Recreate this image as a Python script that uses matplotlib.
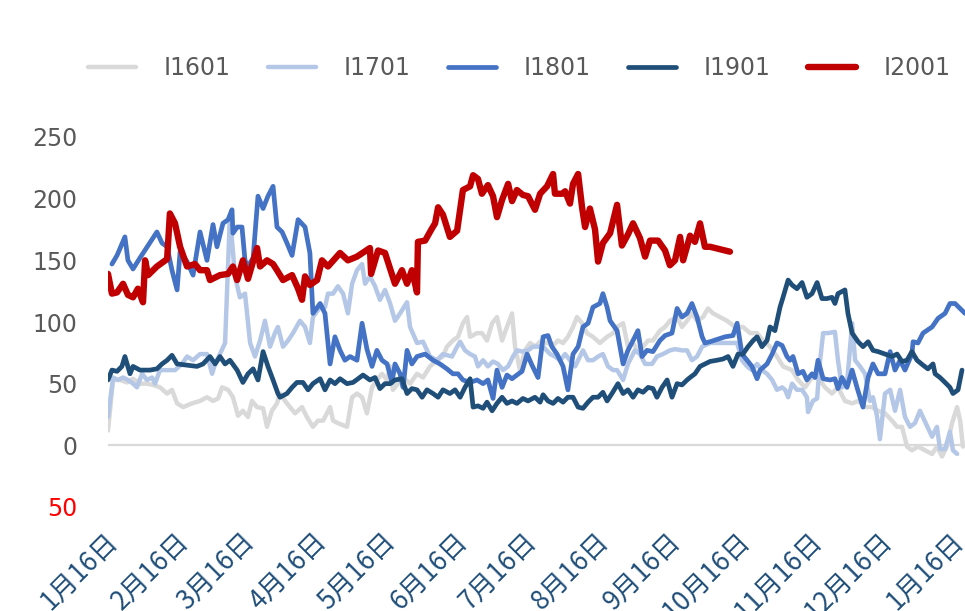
import datetime as dt

import matplotlib
matplotlib.use("Agg")
import matplotlib.dates as mdates
import matplotlib.pyplot as plt
import matplotlib.transforms as mtransforms
import numpy as np
from matplotlib.ticker import FuncFormatter


# Series settings
series_names = ["I1601", "I1701", "I1801", "I1901", "I2001"]
series_colors = ["#D9D9D9", "#B4C7E7", "#4472C4", "#1F4E79", "#C00000"]

# First date on the axis, every series is given as days after it
start_date = dt.date(2019, 1, 16)

i1601_days = [0, 2.2, 5.2, 8.2, 10.8, 13.8, 16.8, 19.4, 22.4, 25.5,
              27.6, 29.8, 32.4, 36.2, 39.7, 42.7, 45.3, 47.5, 49.2, 51.8,
              53.9, 56.1, 58.2, 60.4, 62.1, 64.3, 66.9, 68.6, 70.7, 72.9,
              74.2, 76.4, 78.5, 80.7, 83.7, 85.8, 88.4, 90.6, 92.8, 95.8,
              97.1, 99.2, 103.1, 105.3, 107.4, 109.6, 111.7, 113.9, 116.0, 118.2,
              120.4, 121.7, 122.9, 125.1, 127.3, 130.3, 133.3, 135.9, 138.9, 141.9,
              144.5, 146.2, 148.8, 151.0, 153.1, 154.9, 156.2, 159.2, 161.3, 163.5,
              165.7, 167.8, 170.0, 172.1, 174.3, 175.6, 177.7, 179.9, 182.1, 184.2,
              186.4, 189.4, 192.0, 194.1, 196.3, 198.4, 200.6, 202.3, 204.5, 206.6,
              209.2, 212.2, 215.3, 217.9, 219.6, 222.2, 224.3, 226.5, 228.6, 230.8,
              233.0, 235.1, 238.1, 240.3, 242.4, 245.5, 247.6, 249.8, 251.9, 254.1,
              256.7, 258.8, 261.0, 264.0, 267.0, 270.5, 273.9, 277.0, 280.0, 282.6,
              285.6, 288.6, 291.2, 295.1, 297.7, 300.7, 303.7, 306.3, 309.3, 312.3,
              314.9, 317.9, 321.0, 323.6, 326.6, 329.6, 332.2, 335.2, 338.2, 340.4,
              342.5, 344.7, 346.8, 349.4, 352.5, 355.5, 357.6, 359.8, 361.9, 364.1,
              366.3, 367.6, 368.8]
i1601_values = [12, 53, 53, 51, 54, 50, 50, 49, 47, 42,
                45, 34, 31, 34, 36, 39, 36, 38, 47, 45,
                39, 24, 28, 23, 36, 31, 30, 15, 28, 34,
                42, 36, 31, 26, 31, 23, 15, 20, 20, 31,
                20, 18, 15, 39, 42, 39, 26, 47, 53, 58,
                53, 64, 45, 50, 55, 50, 58, 55, 64, 69,
                72, 80, 85, 88, 99, 104, 88, 91, 91, 85,
                99, 104, 85, 96, 107, 80, 61, 77, 83, 80,
                84, 83, 81, 85, 83, 88, 96, 104, 99, 91,
                88, 83, 88, 91, 96, 99, 80, 83, 77, 80,
                85, 85, 93, 96, 101, 104, 96, 101, 107, 101,
                104, 111, 107, 104, 101, 96, 96, 91, 91, 85,
                80, 72, 64, 61, 53, 47, 55, 55, 47, 42,
                47, 36, 34, 36, 31, 31, 28, 26, 20, 15,
                15, -1, -4, -1, -4, -7, -1, -9, -1, 18,
                31, 20, -1]

i1701_days = [0, 2.2, 4.3, 6.5, 8.6, 10.8, 12.5, 14.7, 16.8, 19.0,
              20.3, 22.4, 25.5, 28.9, 31.9, 34.1, 36.7, 39.7, 42.7, 44.9,
              46.2, 48.3, 50.5, 52.6, 54.8, 56.9, 59.1, 61.3, 63.4, 65.6,
              67.7, 69.9, 72.0, 73.3, 75.5, 77.7, 79.8, 82.8, 85.0, 87.1,
              88.4, 91.5, 93.6, 94.9, 97.1, 99.2, 101.4, 103.5, 105.3, 107.4,
              109.6, 110.9, 113.0, 115.2, 117.3, 119.5, 121.7, 123.8, 126.0, 129.0,
              130.3, 133.3, 135.9, 138.9, 141.9, 144.5, 148.4, 150.6, 151.9, 154.0,
              156.2, 158.3, 159.6, 161.8, 163.9, 166.1, 168.2, 170.4, 172.6, 174.7,
              176.4, 179.0, 181.2, 183.3, 185.5, 187.7, 190.7, 192.8, 195.0, 197.2,
              199.3, 201.5, 203.6, 204.9, 207.1, 209.2, 211.4, 213.5, 215.7, 217.9,
              219.6, 222.2, 224.3, 227.3, 229.5, 231.7, 234.7, 236.8, 239.4, 242.4,
              244.6, 247.6, 249.8, 251.9, 254.1, 256.3, 259.7, 264.0, 268.3, 271.4,
              273.5, 275.7, 277.8, 280.0, 282.1, 284.3, 286.5, 288.6, 290.8, 292.1,
              293.4, 295.1, 297.2, 299.4, 301.5, 302.0, 304.1, 305.9, 307.2, 308.5,
              310.6, 313.6, 314.9, 316.6, 318.8, 321.0, 322.3, 324.4, 326.6, 328.7,
              330.0, 331.7, 333.0, 335.2, 337.4, 339.5, 341.7, 343.8, 346.0, 348.1,
              350.3, 352.5, 355.5, 357.6, 358.9, 361.1, 363.2, 364.5, 366.3]
i1701_values = [23, 55, 53, 55, 53, 50, 47, 58, 53, 55,
                50, 61, 61, 61, 66, 72, 69, 74, 74, 58,
                66, 74, 83, 186, 137, 120, 123, 83, 72, 85,
                101, 80, 91, 96, 80, 85, 91, 101, 96, 83,
                104, 112, 112, 123, 123, 129, 123, 107, 131, 142,
                147, 131, 137, 129, 118, 126, 115, 101, 107, 116,
                96, 83, 84, 72, 69, 74, 72, 80, 84, 77,
                74, 72, 64, 69, 64, 68, 66, 61, 64, 72,
                77, 76, 77, 80, 80, 80, 74, 72, 69, 74,
                69, 64, 72, 77, 69, 69, 72, 74, 64, 61,
                61, 53, 66, 77, 74, 66, 66, 72, 74, 77,
                78, 77, 77, 69, 72, 80, 83, 83, 83, 83,
                69, 64, 61, 66, 61, 58, 53, 45, 47, 45,
                39, 50, 45, 45, 39, 27, 36, 38, 69, 91,
                91, 92, 69, 47, 50, 99, 69, 64, 58, 36,
                39, 24, 5, 42, 45, 28, 45, 23, 15, 18,
                28, 19, 7, 15, -3, -3, 11, -4, -7]

i1801_days = [1.7, 3.9, 7.3, 8.6, 10.8, 13.8, 17.3, 21.1, 23.3, 25.5,
              27.6, 29.8, 31.1, 34.1, 36.7, 39.7, 42.7, 45.3, 47.0, 49.6,
              51.8, 53.5, 53.9, 55.7, 57.8, 59.1, 60.4, 62.6, 64.7, 66.9,
              69.0, 71.2, 72.9, 75.1, 77.2, 79.4, 82.0, 85.0, 87.1, 88.4,
              91.5, 93.6, 95.8, 97.9, 100.1, 102.2, 104.4, 107.4, 109.6, 111.7,
              113.9, 116.0, 118.2, 120.4, 122.5, 123.8, 126.0, 127.3, 129.0, 131.1,
              133.3, 136.8, 140.2, 143.2, 146.2, 148.8, 151.0, 153.1, 156.2, 159.2,
              161.8, 163.9, 166.1, 167.8, 170.0, 172.1, 174.3, 176.4, 178.6, 180.8,
              182.9, 185.5, 187.7, 189.8, 191.5, 193.7, 196.3, 198.4, 200.6, 202.8,
              204.9, 207.1, 209.2, 212.2, 213.5, 215.3, 216.6, 219.6, 222.2, 224.3,
              227.3, 228.6, 230.4, 232.5, 235.1, 238.1, 240.3, 243.3, 245.5, 247.6,
              249.8, 251.9, 254.1, 256.3, 257.5, 259.7, 266.2, 269.6, 271.4, 273.5,
              275.7, 277.8, 280.0, 281.3, 284.3, 286.5, 288.6, 290.8, 292.9, 294.2,
              295.5, 297.7, 299.8, 301.5, 303.7, 305.0, 306.3, 308.5, 311.5, 313.6,
              314.9, 316.6, 318.8, 321.0, 323.1, 325.7, 327.9, 330.0, 332.2, 335.2,
              337.4, 339.5, 341.7, 343.8, 346.8, 347.3, 349.4, 351.6, 355.5, 358.1,
              361.1, 363.2, 365.4, 369.7]
i1801_values = [147, 154, 169, 150, 143, 152, 162, 173, 164, 161,
                142, 126, 157, 149, 138, 173, 150, 179, 161, 180,
                183, 191, 172, 177, 177, 150, 145, 152, 202, 192,
                202, 210, 177, 173, 164, 154, 183, 177, 156, 107,
                115, 107, 66, 88, 77, 69, 72, 69, 99, 78,
                64, 77, 69, 66, 51, 66, 58, 47, 77, 66,
                72, 74, 69, 66, 62, 58, 58, 53, 51, 53,
                50, 53, 38, 61, 47, 57, 54, 57, 60, 74,
                65, 55, 88, 89, 80, 74, 64, 45, 74, 80,
                96, 99, 112, 115, 123, 112, 101, 93, 66, 77,
                88, 93, 72, 77, 76, 85, 89, 91, 111, 104,
                107, 115, 104, 88, 83, 84, 88, 89, 99, 74,
                69, 64, 54, 61, 66, 74, 83, 81, 72, 69,
                72, 58, 60, 53, 58, 55, 69, 54, 53, 54,
                46, 55, 47, 61, 47, 31, 55, 66, 58, 58,
                76, 61, 69, 61, 74, 84, 83, 91, 96, 103,
                107, 115, 115, 107]

i1901_days = [0, 1.7, 3.9, 6.0, 7.3, 9.5, 10.8, 13.8, 18.1, 21.1,
              23.3, 25.5, 27.6, 29.8, 34.1, 38.4, 41.0, 44.0, 46.2, 48.3,
              50.5, 52.6, 55.7, 58.2, 60.4, 62.6, 64.7, 66.9, 69.0, 71.2,
              73.3, 74.2, 77.2, 79.4, 81.5, 84.1, 86.3, 88.4, 91.5, 93.6,
              95.8, 97.9, 100.1, 103.1, 105.7, 107.9, 110.0, 113.0, 115.2, 117.3,
              119.5, 121.7, 123.8, 126.8, 129.0, 131.1, 133.3, 135.5, 137.6, 140.2,
              142.4, 144.5, 147.5, 149.7, 151.9, 154.0, 156.2, 157.5, 159.6, 161.8,
              163.5, 165.7, 167.8, 170.0, 172.1, 174.3, 176.4, 179.0, 181.2, 184.2,
              186.4, 187.7, 189.8, 192.0, 194.1, 196.3, 198.4, 200.6, 202.8, 204.9,
              207.1, 209.2, 211.4, 213.5, 215.3, 217.4, 220.0, 222.2, 224.3, 226.5,
              228.6, 230.8, 233.0, 235.1, 236.8, 239.0, 241.2, 243.3, 245.5, 247.6,
              249.8, 251.1, 253.2, 255.4, 257.5, 259.7, 262.7, 265.3, 267.5, 269.6,
              271.8, 273.9, 276.1, 278.3, 280.0, 282.1, 284.3, 285.6, 287.7, 289.9,
              291.2, 293.4, 295.1, 297.2, 299.4, 301.5, 303.7, 305.9, 308.0, 310.2,
              312.3, 313.6, 314.9, 317.9, 319.2, 321.0, 323.6, 325.7, 327.9, 330.0,
              332.2, 335.2, 338.2, 340.4, 342.5, 344.7, 346.8, 349.0, 351.6, 353.7,
              355.9, 356.8, 358.9, 361.1, 363.2, 364.5, 366.7, 368.4]
i1901_values = [53, 61, 60, 64, 72, 58, 64, 61, 61, 62,
                66, 69, 73, 66, 65, 64, 66, 72, 66, 72,
                66, 69, 61, 51, 58, 62, 53, 76, 64, 53,
                42, 39, 42, 47, 51, 51, 45, 50, 54, 45,
                53, 50, 54, 50, 51, 54, 57, 53, 55, 46,
                50, 50, 53, 54, 42, 46, 45, 39, 45, 42,
                39, 45, 42, 45, 39, 47, 54, 31, 32, 30,
                35, 28, 34, 39, 34, 36, 34, 38, 36, 39,
                35, 41, 36, 34, 38, 35, 39, 39, 31, 30,
                35, 39, 39, 43, 36, 42, 50, 42, 45, 39,
                45, 43, 47, 46, 39, 47, 53, 39, 50, 49,
                53, 55, 58, 64, 66, 68, 69, 70, 72, 64,
                74, 74, 80, 85, 88, 80, 85, 96, 93, 112,
                120, 134, 130, 127, 132, 120, 123, 132, 119, 119,
                120, 115, 123, 126, 107, 91, 84, 80, 84, 77,
                76, 74, 72, 74, 68, 69, 76, 69, 65, 62,
                66, 58, 55, 51, 47, 42, 45, 61]

i2001_days = [0, 1.7, 3.9, 6.5, 8.6, 10.8, 12.9, 15.1, 16.0, 17.3,
              21.1, 25.5, 26.7, 28.9, 31.1, 34.1, 37.5, 39.7, 42.7, 44.0,
              48.3, 51.8, 53.9, 55.7, 58.2, 60.4, 64.3, 65.6, 68.6, 71.2,
              72.9, 75.5, 79.4, 82.0, 83.7, 85.0, 87.1, 90.2, 92.3, 94.9,
              100.1, 103.5, 107.4, 113.0, 113.5, 116.5, 119.5, 123.8, 126.8, 129.0,
              131.1, 133.3, 133.7, 136.8, 139.8, 141.1, 142.4, 144.5, 147.5, 150.6,
              153.1, 156.2, 157.5, 159.6, 161.3, 163.9, 166.1, 167.8, 170.0, 172.6,
              174.3, 176.4, 179.0, 181.2, 184.2, 186.4, 189.4, 192.0, 192.8, 195.9,
              197.2, 199.3, 200.6, 202.8, 204.5, 205.8, 207.9, 210.1, 211.4, 213.5,
              216.6, 219.6, 221.7, 224.3, 226.5, 229.5, 231.7, 233.8, 237.3, 240.3,
              242.4, 244.6, 246.8, 248.1, 251.1, 253.2, 255.4, 257.5, 259.7, 268.3]
i2001_values = [139, 123, 124, 131, 122, 120, 127, 116, 150, 138,
                145, 151, 188, 180, 161, 145, 147, 142, 142, 134,
                138, 139, 145, 134, 150, 135, 160, 145, 150, 147,
                142, 134, 138, 127, 118, 137, 130, 134, 150, 145,
                156, 150, 153, 160, 139, 158, 156, 131, 142, 131,
                142, 124, 165, 166, 176, 180, 193, 187, 169, 174,
                207, 210, 219, 216, 204, 211, 202, 185, 199, 212,
                198, 207, 203, 202, 191, 204, 210, 220, 204, 204,
                206, 196, 212, 220, 193, 177, 192, 175, 149, 164,
                172, 195, 162, 171, 180, 168, 153, 166, 166, 158,
                146, 150, 169, 150, 170, 165, 180, 161, 161, 157]

series_days = [i1601_days, i1701_days, i1801_days, i1901_days, i2001_days]
series_values = [i1601_values, i1701_values, i1801_values, i1901_values, i2001_values]
series_widths = [3.2, 3.2, 3.4, 3.4, 4.6]

# Y axis ticks, the negative one is shown in red without the minus sign
y_ticks = [-50, 0, 50, 100, 150, 200, 250]
y_tick_labels = ["50", "0", "50", "100", "150", "200", "250"]


def main() -> None:
    fig = plt.figure(figsize=(9.65, 6.11), dpi=100)
    ax = fig.add_axes([108 / 965, 104 / 611, 857 / 965, 370 / 611])

    base = mdates.date2num(start_date)

    # Horizontal axis line at zero
    ax.axhline(0, color="#D9D9D9", linewidth=1.6, zorder=1)

    for name, days, values, color, width in zip(
        series_names, series_days, series_values, series_colors, series_widths
    ):
        ax.plot(
            base + np.asarray(days),
            values,
            color=color,
            linewidth=width,
            solid_joinstyle="round",
            solid_capstyle="round",
            label=name,
            zorder=2,
        )

    ax.set_xlim(base, base + 369.7)
    ax.set_ylim(-50, 250)

    # Date ticks on the 16th of every month
    ax.xaxis.set_major_locator(mdates.MonthLocator(bymonthday=16))
    ax.xaxis.set_major_formatter(
        FuncFormatter(lambda v, pos: f"{mdates.num2date(v).month}月16日")
    )
    ax.tick_params(axis="x", length=0, pad=22, labelsize=19, labelcolor="#1F4E79")
    shift = mtransforms.ScaledTranslation(6 / 100, 0, fig.dpi_scale_trans)
    for label in ax.get_xticklabels():
        label.set_family(["Noto Sans CJK SC", "DejaVu Sans"])
        label.set_rotation(45)
        label.set_ha("right")
        label.set_va("center")
        label.set_rotation_mode("anchor")
        label.set_transform(label.get_transform() + shift)

    ax.set_yticks(y_ticks)
    ax.set_yticklabels(y_tick_labels)
    ax.tick_params(axis="y", length=0, pad=22, labelsize=17, labelcolor="#595959")
    ax.get_yticklabels()[0].set_color("#FF0000")

    for spine in ax.spines.values():
        spine.set_visible(False)

    fig.legend(
        loc="center left",
        bbox_to_anchor=(88 / 965, 1 - 68 / 611),
        ncol=5,
        frameon=False,
        fontsize=17,
        labelcolor="#595959",
        handlelength=2.03,
        handletextpad=1.19,
        columnspacing=1.57,
        borderpad=0,
        borderaxespad=0,
    )

    fig.savefig("out.png", dpi=100)


if __name__ == "__main__":
    main()
